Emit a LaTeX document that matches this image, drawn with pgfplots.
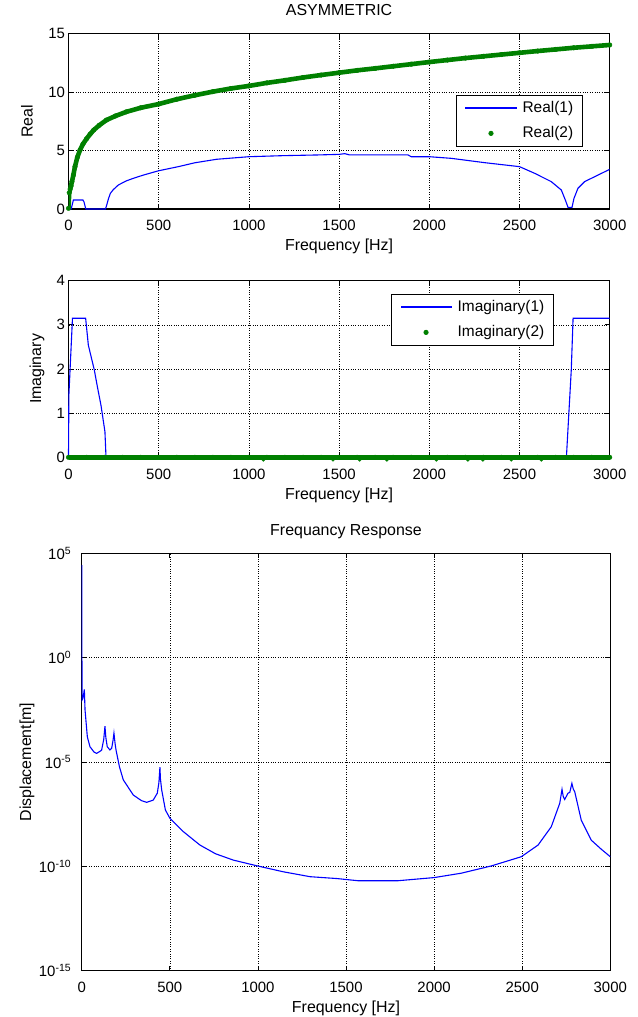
\documentclass[border=0pt]{standalone}
\usepackage{fontspec}
\setmainfont{Liberation Sans}
\usepackage{pgfplots}
\usepackage{pgfplotstable}
\pgfplotsset{compat=1.18}

\definecolor{mblue}{rgb}{0,0,1}
\definecolor{mgreen}{rgb}{0,0.5,0}

\pgfplotstableread{
f v
0 0
15 0
27 0.77
80 0.77
86 0.6
95 0.05
97 0
205 0
213 0.4
221 0.85
232 1.34
248 1.65
276 2.05
320 2.40
359 2.62
415 2.90
500 3.27
609 3.62
700 3.95
821 4.25
1000 4.47
1191 4.56
1383 4.62
1500 4.67
1531 4.73
1559 4.62
1882 4.62
1900 4.47
2000 4.47
2122 4.33
2307 3.96
2500 3.62
2584 3.05
2676 2.34
2732 1.62
2754 0.77
2769 0.14
2791 0.14
2802 0.91
2824 1.77
2861 2.34
2935 2.90
3000 3.39
}\realone

\pgfplotstableread{
f v
0 0.06
4 1.39
9 1.70
14 1.97
19 2.34
27 2.90
36 3.62
49 4.42
64 5.04
80 5.55
100 6.00
120 6.40
140 6.75
170 7.15
210 7.60
260 7.95
320 8.30
400 8.65
500 8.97
600 9.38
700 9.72
800 10.03
900 10.30
1000 10.52
1100 10.78
1200 11.00
1300 11.24
1400 11.45
1500 11.65
1600 11.85
1700 12.02
1800 12.20
1900 12.38
2000 12.56
2100 12.73
2200 12.90
2300 13.05
2400 13.20
2500 13.35
2600 13.50
2700 13.64
2800 13.78
2900 13.90
3000 14.02
}\realtwo

\pgfplotstableread{
f v
0 0
2 1.40
22 3.15
95 3.15
110 2.54
143 1.98
160 1.60
180 1.18
202 0.58
208 0
2760 0
2787 1.98
2797 3.15
3000 3.15
}\imagone

\pgfplotstableread{
f v
0 0
100 0
200 0
300 0
400 0
500 0
600 0
700 0
800 0
900 0
1000 0
1100 0
1200 0
1300 0
1400 0
1500 0
1600 0
1700 0
1800 0
1900 0
2000 0
2100 0
2200 0
2300 0
2400 0
2500 0
2600 0
2700 0
2800 0
2900 0
3000 0
}\imagtwo

\pgfplotstableread{
f v
1080 -0.05
1466 -0.05
1614 -0.05
1765 -0.05
2039 -0.05
2214 -0.05
2297 -0.05
2454 -0.05
2621 -0.05
}\imagtwolow

\pgfplotstableread{
f v
0 2.75e4
2 9.3e-3
8 1.2e-2
15 3.0e-2
19 3.1e-3
32 1.6e-4
47 5.4e-5
70 3.0e-5
85 2.6e-5
105 3.3e-5
113 3.7e-5
125 1.2e-4
132 5.2e-4
137 1.5e-4
145 5.4e-5
160 3.8e-5
170 4.5e-5
178 1.1e-4
183 2.4e-4
190 7.0e-5
195 3.7e-5
214 6.0e-6
236 1.4e-6
293 2.6e-7
340 1.4e-7
369 1.17e-7
406 1.5e-7
429 3.2e-7
438 1.0e-6
444 5.6e-6
447 1.5e-6
454 4.6e-7
475 5.0e-8
501 2.0e-8
577 4.6e-9
671 1.05e-9
760 4.0e-10
860 2.0e-10
993 1.07e-10
1144 5.5e-11
1296 3.2e-11
1450 2.6e-11
1568 2.05e-11
1700 2.05e-11
1795 2.05e-11
2000 2.9e-11
2154 4.7e-11
2325 1.05e-10
2495 2.9e-10
2590 1.05e-9
2665 7.9e-9
2713 1.05e-7
2726 4.9e-7
2733 2.2e-7
2741 1.6e-7
2760 3.2e-7
2770 3.5e-7
2782 9.5e-7
2790 5.0e-7
2798 3.8e-7
2835 1.66e-8
2892 1.8e-9
2949 6.6e-10
3000 2.9e-10
}\disp

\newcommand{\fs}{\fontsize{15}{17}\selectfont}
\newcommand{\fl}{\fontsize{16}{18}\selectfont}
\newcommand{\fg}{\fontsize{15.5}{17}\selectfont}

\pgfplotsset{
  mystyle/.style={
    scale only axis,
    anchor=north west,
    axis line style={line width=1.1pt},
    every tick/.style={black, line width=0.8pt},
    major tick length=5bp,
    tick align=inside,
    grid=major,
    major grid style={black, dotted, line width=0.6pt},
    xmin=0, xmax=3000,
    xtick={0,500,...,3000},
    /pgf/number format/1000 sep={},
    /pgf/number format/assume math mode=true,
    tick label style={font=\fs},
    label style={font=\fl},
    title style={font=\fl, at={(axis description cs:0.5,1)}, anchor=base, yshift=11.8bp},
    xlabel={Frequency [Hz]},
    xlabel style={at={(axis description cs:0.5,0)}, anchor=base, yshift=-41.7bp},
    xticklabel style={anchor=base, yshift=-21.7bp},
    legend style={font=\fg, draw=black, line width=0.9pt, anchor=north west,
      cells={anchor=west}, inner xsep=9bp, inner ysep=5bp, row sep=9bp, column sep=6bp,
      nodes={inner sep=0pt, text height=12bp, text depth=4bp}},
  },
}

\begin{document}
\begin{tikzpicture}
\useasboundingbox (0,0) rectangle (638bp,-1017bp);

\begin{axis}[mystyle,
  at={(68.5bp,-33.5bp)}, width=541.2bp, height=175.5bp,
  ymin=0, ymax=15, ytick={0,5,10,15},
  title={ASYMMETRIC},
  ylabel={Real},
  ylabel style={at={(axis description cs:-0.0767,0.5)}, anchor=center},
  legend style={at={(0.716,0.65)}},
]
\addplot[color=mblue, line width=1.1bp,
  legend image code/.code={\fill[mblue] (0bp,-0.45bp) rectangle (50bp,0.45bp);}]
  table[x=f,y=v] {\realone};
\addlegendentry{Real(1)}
\addplot[mgreen, line width=4.6bp, forget plot] table[x=f,y=v] {\realtwo};
\addplot[mgreen, only marks, mark=*, mark size=2.3bp,
  legend image code/.code={\fill[mgreen] (25bp,0bp) circle (2.1bp);}]
  table[x=f,y=v] {\realtwo};
\addlegendentry{Real(2)}
\end{axis}

\begin{axis}[mystyle,
  at={(68.5bp,-280.7bp)}, width=541.2bp, height=176.6bp,
  ymin=0, ymax=4, ytick={0,1,2,3,4},
  ylabel={Imaginary},
  ylabel style={at={(axis description cs:-0.0582,0.5)}, anchor=center},
  legend style={at={(0.596,0.925)}},
  clip=false,
]
\addplot[color=mblue, line width=1.1bp,
  legend image code/.code={\fill[mblue] (0bp,-0.45bp) rectangle (50bp,0.45bp);}]
  table[x=f,y=v] {\imagone};
\addlegendentry{Imaginary(1)}
\addplot[mgreen, line width=4.6bp, forget plot] table[x=f,y=v] {\imagtwo};
\addplot[mgreen, only marks, mark=*, mark size=2.3bp,
  legend image code/.code={\fill[mgreen] (25bp,0bp) circle (2.1bp);}]
  table[x=f,y=v] {\imagtwo};
\addlegendentry{Imaginary(2)}
\addplot[mgreen, only marks, mark=*, mark size=1.9bp, forget plot] table[x=f,y=v] {\imagtwolow};
\end{axis}

\begin{axis}[mystyle,
  at={(81.7bp,-553.3bp)}, width=528.6bp, height=417.4bp,
  ymode=log, ymin=1e-15, ymax=1e5,
  ytick={1e-15,1e-10,1e-5,1,1e5},
  yticklabels={10\textsuperscript{-15},10\textsuperscript{-10},10\textsuperscript{-5},10\textsuperscript{0},10\textsuperscript{5}},
  yminorticks=false,
  yticklabel style={xshift=-7bp},
  title={Frequancy Response},
  ylabel={Displacement[m]},
  ylabel style={at={(axis description cs:-0.1035,0.5)}, anchor=center},
]
\addplot[color=mblue, line width=1.1bp] table[x=f,y=v] {\disp};
\end{axis}
\end{tikzpicture}
\end{document}
